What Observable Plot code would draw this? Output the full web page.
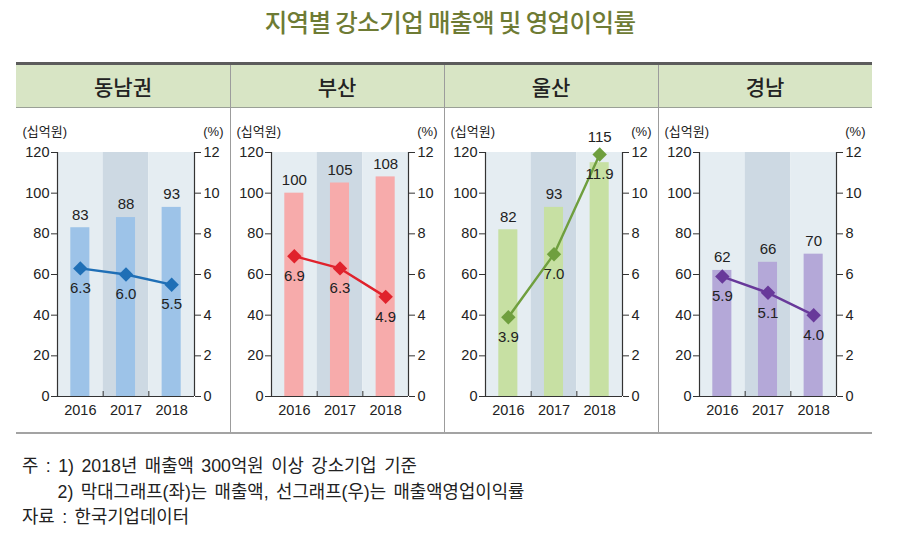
<!DOCTYPE html>
<html><head><meta charset="utf-8">
<script src="https://cdn.jsdelivr.net/npm/d3@7"></script>
<script src="https://cdn.jsdelivr.net/npm/@observablehq/plot@0.6"></script>
<style>
  html,body{margin:0;padding:0;background:#fff;}
  body{width:900px;height:555px;position:relative;font-family:"Liberation Sans","Noto Sans CJK KR",sans-serif;color:#222;overflow:hidden;}
  #title{position:absolute;left:0;top:5px;width:900px;text-align:center;font-size:24.5px;line-height:34px;color:#6e7b34;font-weight:500;font-family:"Noto Sans CJK KR",sans-serif;letter-spacing:-0.6px;}
  #table{position:absolute;left:16px;top:62px;width:856px;height:373px;}
  .topline{position:absolute;left:0;top:0;width:856px;height:3px;background:#5c5c5c;}
  .head{position:absolute;top:3px;height:42px;width:214px;background:#d8e5c5;text-align:center;line-height:42px;font-size:21px;font-weight:500;font-family:"Noto Sans CJK KR",sans-serif;color:#222;}
  .headline{position:absolute;left:0;top:45px;width:856px;height:1px;background:#9aa096;}
  .sep{position:absolute;top:3px;width:1px;height:368px;background:#9c9c9c;}
  .panel{position:absolute;top:46px;width:214px;height:325px;}
  .bottomline{position:absolute;left:0;top:370px;width:856px;height:2px;background:#a3a3a3;}
  #notes{position:absolute;left:22px;top:454px;font-size:17.8px;line-height:25.5px;word-spacing:2.5px;color:#222;white-space:nowrap;}
</style>
</head><body>
<div id="title">지역별 강소기업 매출액 및 영업이익률</div>
<div id="table"></div>
<div id="notes"></div>
<script>
const regions = ["동남권", "부산", "울산", "경남"];
const years = [2016, 2017, 2018];
const sales = [
  [83, 88, 93],
  [100, 105, 108],
  [82, 93, 115],
  [62, 66, 70]
];
const rates = [
  [6.3, 6.0, 5.5],
  [6.9, 6.3, 4.9],
  [3.9, 7.0, 11.9],
  [5.9, 5.1, 4.0]
];
const salesTicks = [0, 20, 40, 60, 80, 100, 120];
const rateTicks = [0, 2, 4, 6, 8, 10, 12];
const barColors = ["#9dc3e8", "#f7abab", "#c7e0a3", "#b4a8d8"];
const lineColors = ["#1f6fb6", "#e0222c", "#6f9f3e", "#68399a"];
const bandColors = ["#e5edf2", "#cdd9e3", "#e5edf2"];
const leftUnit = "(십억원)";
const rightUnit = "(%)";
const notes = [
  "주 : 1) 2018년 매출액 300억원 이상 강소기업 기준",
  "　　2) 막대그래프(좌)는 매출액, 선그래프(우)는 매출액영업이익률",
  "자료 : 한국기업데이터"
];

const rateMax = rateTicks[rateTicks.length - 1];
const salesMax = salesTicks[salesTicks.length - 1];
const k = salesMax / rateMax;

const table = document.getElementById("table");
table.insertAdjacentHTML("beforeend", '<div class="topline"></div>');
regions.forEach((r, i) => {
  table.insertAdjacentHTML("beforeend", `<div class="head" style="left:${i*214}px">${r}</div>`);
});
table.insertAdjacentHTML("beforeend", '<div class="headline"></div>');

regions.forEach((r, i) => {
  const data = years.map((y, j) => ({year: y, sales: sales[i][j], rate: rates[i][j]}));
  const bands = years.map((y, j) => ({year: y, color: bandColors[j]}));
  const x0 = years[0] - 0.5, x1 = years[years.length - 1] + 0.5;
  const bounds = years.slice(1).map(y => y - 0.5);
  const plot = Plot.plot({
    width: 214,
    height: 325,
    marginLeft: 41,
    marginRight: 36,
    marginTop: 44,
    marginBottom: 37,
    style: {fontFamily: '"Liberation Sans","Noto Sans CJK KR",sans-serif', fontSize: "14px", color: "#222", background: "transparent"},
    x: {domain: [x0, x1]},
    y: {domain: [0, salesMax]},
    color: {type: "identity"},
    marks: [
      Plot.rect(bands, {x1: d => d.year - 0.5, x2: d => d.year + 0.5, y1: 0, y2: salesMax, fill: d => d.color}),
      Plot.rectY(data, {x1: d => d.year - 0.5, x2: d => d.year + 0.5, y: "sales", fill: barColors[i], insetLeft: 13.3, insetRight: 13.3}),
      Plot.ruleX([x0, x1], {stroke: "#333", strokeWidth: 1.2}),
      Plot.ruleY([0], {stroke: "#333", strokeWidth: 1.2}),
      Plot.axisY({anchor: "left", ticks: salesTicks, tickSize: 6, tickPadding: 2, label: null, fontSize: 14.5, stroke: "#333"}),
      Plot.axisY({anchor: "right", ticks: salesTicks, tickSize: 6, tickPadding: 3, label: null, fontSize: 14.5, tickFormat: d => String(d / k), stroke: "#333"}),
      Plot.axisX({ticks: years, tickSize: 0, tickPadding: 8, tickFormat: d => String(d), label: null, fontSize: 14.5}),
      Plot.axisX({ticks: bounds, tickSize: -5, tickFormat: () => "", label: null, stroke: "#333"}),
      Plot.line(data, {x: "year", y: d => d.rate * k, stroke: lineColors[i], strokeWidth: 2.4}),
      Plot.dot(data, {x: "year", y: d => d.rate * k, symbol: "diamond2", r: 6.5, fill: lineColors[i], stroke: "none"}),
      Plot.text(data, {x: "year", y: d => Math.max(d.sales, d.rate * k + 2), dy: -13, text: d => String(d.sales), fontSize: 15, fill: "#222"}),
      Plot.text(data, {x: "year", y: d => d.rate * k, dy: 20, text: d => d.rate.toFixed(1), fontSize: 15, fill: "#222"}),
      Plot.text([leftUnit], {frameAnchor: "top-left", dx: -35, dy: -26, textAnchor: "start", text: d => d, fontSize: 13, fill: "#222"}),
      Plot.text([rightUnit], {frameAnchor: "top-right", dx: 29, dy: -26, textAnchor: "end", text: d => d, fontSize: 13, fill: "#222"})
    ]
  });
  const div = document.createElement("div");
  div.className = "panel";
  div.style.left = (i * 214) + "px";
  div.appendChild(plot);
  table.appendChild(div);
});
for (let i = 1; i < regions.length; i++) {
  table.insertAdjacentHTML("beforeend", `<div class="sep" style="left:${i*214}px"></div>`);
}
table.insertAdjacentHTML("beforeend", '<div class="bottomline"></div>');
document.getElementById("notes").innerHTML = notes.map(n => `<div>${n}</div>`).join("");
</script>
</body></html>
